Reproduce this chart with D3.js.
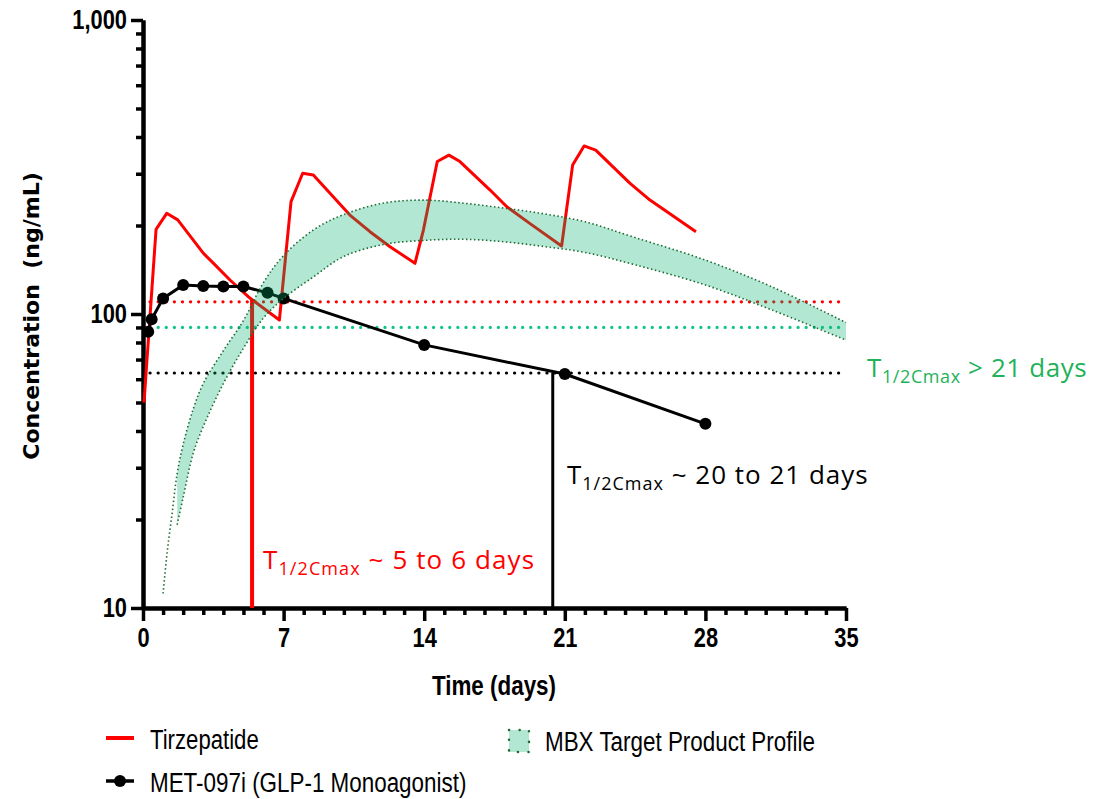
<!DOCTYPE html>
<html>
<head>
<meta charset="utf-8">
<script src="https://cdn.jsdelivr.net/npm/d3@7"></script>
<style>
  body { margin: 0; background: #fff; }
  svg { display: block; }
  .tick text { font-family: "Liberation Sans", Arial, sans-serif; font-weight: bold; }
</style>
</head>
<body>
<div id="chart"></div>
<script>
// ---- data ----
var tirzDays = [0.05, 0.65, 1.18, 1.73, 3.0, 3.5, 4.33, 5.24, 6.79, 7.37, 7.95, 8.48, 10.3, 11.3, 12.3, 13.54,
                13.96, 14.65, 15.23, 15.78, 17.28, 18.1, 19.27, 20.84, 21.39, 21.96, 22.54, 24.25, 25.24, 27.53]
var tirzConc = [50, 194, 220, 209, 161, 149, 130.5, 114.5, 95.4, 241, 301, 297, 217, 190.5, 169.4, 148.7,
                193, 330, 347, 330, 264, 232, 203, 170.3, 321, 373, 361, 278, 244, 190.5]

var metDays = [0.26, 0.43, 1, 2, 3, 4, 5, 6.2, 7, 14, 21, 28]
var metConc = [87, 96, 113, 125.5, 124.5, 124, 124, 118, 113, 78.5, 62.5, 42.3]

// MBX target band (upper and lower edge)
var bandDays = [1.7, 2, 2.5, 3, 4, 5, 6, 7, 8.5, 10, 12, 14, 16, 18, 20, 22, 24.5, 28, 31.3, 35]
var bandHigh = [28.6, 36, 47.5, 58, 75, 95, 128, 158, 193.5, 218, 238.5, 244, 238, 229, 219, 206, 182, 152.5, 123.8, 93.5]
var bandLow  = [19.2, 23.8, 33.6, 41.4, 58, 76.5, 97, 113, 134, 157, 172.5, 178, 179.5, 176, 169.5, 162, 147, 125.5, 103.3, 81.5]
// upper edge keeps going below where the fill starts
var bandTailDays = [1.0, 1.2, 1.45, 1.7]
var bandTailConc = [11.2, 15.4, 21, 28.6]

// half Cmax reference levels
var halfTirz = 110
var halfMbx = 90
var halfMet = 63
var tirzHalfDay = 5.43
var metHalfDay = 20.4
var tirzHalfTop = 112

var xMajorTicks = [0, 7, 14, 21, 28, 35]
var yMajorTicks = [10, 100, 1000]

var width = 1094, height = 799
var svg = d3.select("#chart").append("svg")
    .attr("width", width)
    .attr("height", height)

var x = d3.scaleLinear().domain([0, 35]).range([143, 846])
var y = d3.scaleLog().domain([10, 1000]).range([608, 20])

var red = "#ff0000"
var mint = "rgba(0,180,110,0.3)"
var bandLine = "#1e6b35"

// squeeze regular Arial-like text into a narrow face
function narrow(sel, factor){
    sel.each(function(){
        var w = this.getComputedTextLength()
        d3.select(this).attr("textLength", w * factor).attr("lengthAdjust", "spacingAndGlyphs")
    })
}

// minor ticks
var xMinor = d3.range(0, 36).filter(function(d){ return xMajorTicks.indexOf(d) < 0 })
var yMinor = []
;[10, 100].forEach(function(dec){ for (var k = 2; k <= 9; k++) yMinor.push(dec * k) })

// ---- axes ----
var xAxisMinor = d3.axisBottom(x).tickValues(xMinor).tickSize(7).tickSizeOuter(0).tickFormat("")
var xAxisMajor = d3.axisBottom(x).tickValues(xMajorTicks).tickSize(13).tickSizeOuter(0).tickPadding(6)
var yAxisMinor = d3.axisLeft(y).tickValues(yMinor).tickSize(7).tickSizeOuter(0).tickFormat("")
var yAxisMajor = d3.axisLeft(y).tickValues(yMajorTicks).tickSize(12).tickSizeOuter(0).tickPadding(4)
    .tickFormat(d3.format(","))

function styleAxis(g){
    g.select(".domain").attr("stroke", "#000").attr("stroke-width", 4)
    g.selectAll(".tick line").attr("stroke", "#000").attr("stroke-width", 3.5)
    g.selectAll(".tick text").attr("fill", "#000").style("font-size", "28px").call(narrow, 0.78)
}

svg.append("g").attr("transform", "translate(0,608)").call(xAxisMinor).call(styleAxis)
svg.append("g").attr("transform", "translate(0,608)").call(xAxisMajor).call(styleAxis)
svg.append("g").attr("transform", "translate(143,0)").call(yAxisMinor).call(styleAxis)
svg.append("g").attr("transform", "translate(143,0)").call(yAxisMajor).call(styleAxis)

// axis titles
svg.append("text")
    .attr("x", 494).attr("y", 695)
    .attr("text-anchor", "middle")
    .style("font-family", "'Liberation Sans', Arial, sans-serif")
    .style("font-weight", "bold")
    .style("font-size", "28px")
    .text("Time (days)")
    .call(narrow, 0.8)

svg.append("text")
    .attr("transform", "translate(39,316) rotate(-90)")
    .attr("text-anchor", "middle")
    .style("font-family", "'DejaVu Sans', sans-serif")
    .style("font-weight", "bold")
    .style("font-size", "22px")
    .attr("xml:space", "preserve")
    .text("Concentration  (ng/mL)")

// ---- reference lines ----
function hLine(val, color){
    svg.append("line")
        .attr("x1", x(0.35)).attr("x2", x(34.7))
        .attr("y1", y(val)).attr("y2", y(val))
        .attr("stroke", color)
        .attr("stroke-width", 3.2)
        .attr("stroke-linecap", "round")
        .attr("stroke-dasharray", "0.1,8")
}
hLine(halfTirz, red)
hLine(halfMbx, "#10c486")
hLine(halfMet, "#000")

svg.append("line")
    .attr("x1", x(tirzHalfDay)).attr("x2", x(tirzHalfDay))
    .attr("y1", y(tirzHalfTop)).attr("y2", y(10))
    .attr("stroke", red).attr("stroke-width", 4)

svg.append("line")
    .attr("x1", x(metHalfDay)).attr("x2", x(metHalfDay))
    .attr("y1", y(halfMet)).attr("y2", y(10))
    .attr("stroke", "#000").attr("stroke-width", 3)

// ---- series ----
var line = d3.line()
    .x(function(d){ return x(d[0]) })
    .y(function(d){ return y(d[1]) })

svg.append("path")
    .datum(d3.zip(tirzDays, tirzConc))
    .attr("d", line)
    .attr("fill", "none")
    .attr("stroke", red)
    .attr("stroke-width", 3)
    .attr("stroke-linejoin", "round")

var metData = d3.zip(metDays, metConc)
svg.append("path")
    .datum(metData)
    .attr("d", line)
    .attr("fill", "none")
    .attr("stroke", "#000")
    .attr("stroke-width", 3)

svg.selectAll(".met")
    .data(metData)
    .enter().append("circle")
    .attr("class", "met")
    .attr("cx", function(d){ return x(d[0]) })
    .attr("cy", function(d){ return y(d[1]) })
    .attr("r", 6)
    .attr("fill", "#000")

// ---- MBX band on top, translucent ----
var bandData = bandDays.map(function(d, i){ return [d, bandHigh[i], bandLow[i]] })
var area = d3.area()
    .curve(d3.curveCatmullRom)
    .x(function(d){ return x(d[0]) })
    .y0(function(d){ return y(d[2]) })
    .y1(function(d){ return y(d[1]) })

svg.append("path")
    .datum(bandData)
    .attr("d", area)
    .attr("fill", mint)

var smooth = d3.line().curve(d3.curveCatmullRom)
    .x(function(d){ return x(d[0]) })
    .y(function(d){ return y(d[1]) })

var upperEdge = d3.zip(bandTailDays, bandTailConc).concat(d3.zip(bandDays, bandHigh).slice(1))
var lowerEdge = d3.zip(bandDays, bandLow)
;[upperEdge, lowerEdge].forEach(function(pts){
    svg.append("path")
        .datum(pts)
        .attr("d", smooth)
        .attr("fill", "none")
        .attr("stroke", bandLine)
        .attr("stroke-width", 1.6)
        .attr("stroke-dasharray", "1.5,2.5")
})

// ---- annotations ----
function halfLabel(xp, yp, color, rest, spacing){
    var t = svg.append("text")
        .attr("x", xp).attr("y", yp)
        .attr("fill", color)
        .style("font-family", "'Open Sans', sans-serif")
        .style("font-size", "26px")
        .style("letter-spacing", spacing + "px")
    t.append("tspan").text("T")
    t.append("tspan").attr("dy", 6).style("font-size", "18px").text("1/2Cmax")
    t.append("tspan").attr("dy", -6).attr("xml:space", "preserve").text(" " + rest)
}
halfLabel(263, 569, red, "~ 5 to 6 days", 1.1)
halfLabel(567, 484, "#000", "~ 20 to 21 days", 1.0)
halfLabel(867, 377, "#1fb25a", "> 21 days", 0.6)

// ---- legend ----
var legendFont = "'Liberation Sans', Arial, sans-serif"
svg.append("line").attr("x1", 106).attr("x2", 134).attr("y1", 738).attr("y2", 738)
    .attr("stroke", red).attr("stroke-width", 4)
svg.append("text").attr("x", 150).attr("y", 749)
    .style("font-family", legendFont).style("font-size", "27px").text("Tirzepatide")
    .call(narrow, 0.82)

svg.append("line").attr("x1", 106).attr("x2", 134).attr("y1", 781).attr("y2", 781)
    .attr("stroke", "#000").attr("stroke-width", 3.5)
svg.append("circle").attr("cx", 120).attr("cy", 781).attr("r", 6).attr("fill", "#000")
svg.append("text").attr("x", 150).attr("y", 792)
    .style("font-family", legendFont).style("font-size", "27px").text("MET-097i (GLP-1 Monoagonist)")
    .call(narrow, 0.83)

svg.append("rect").attr("x", 509).attr("y", 730).attr("width", 20).attr("height", 22)
    .attr("fill", mint)
    .attr("stroke", bandLine).attr("stroke-width", 2.5)
    .attr("stroke-linecap", "round")
    .attr("stroke-dasharray", "0.1,10.5")
svg.append("text").attr("x", 545).attr("y", 751)
    .style("font-family", legendFont).style("font-size", "27px").text("MBX Target Product Profile")
    .call(narrow, 0.83)
</script>
</body>
</html>
